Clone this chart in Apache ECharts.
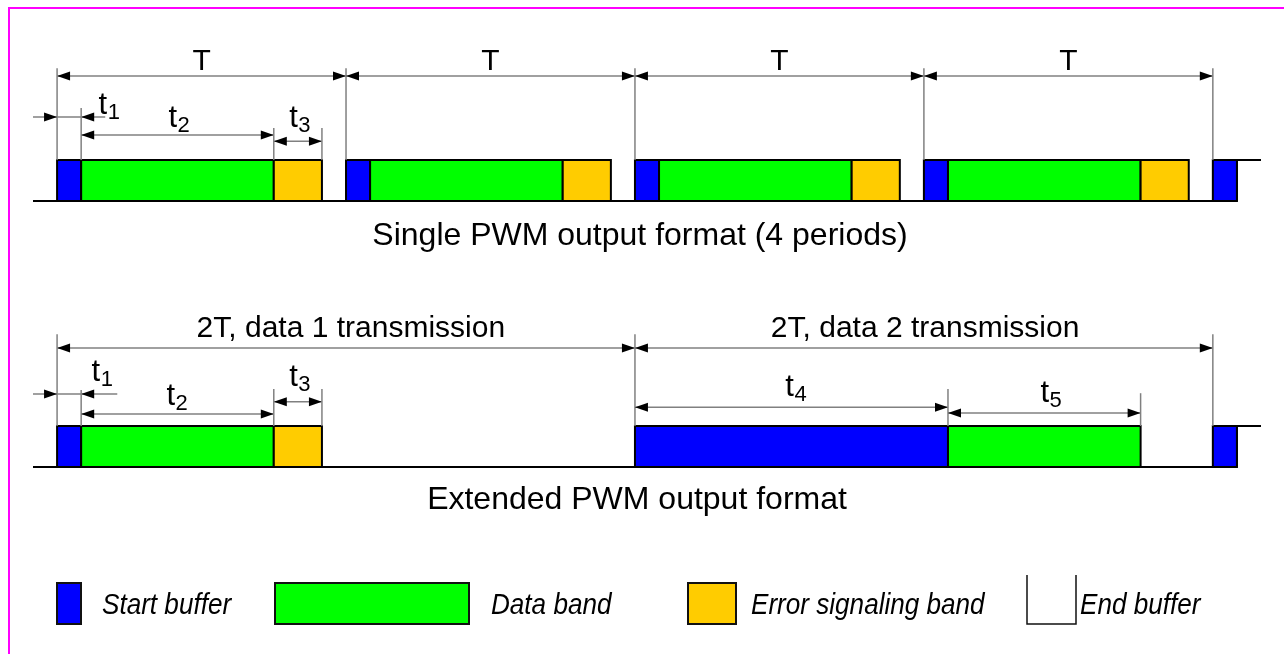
<!DOCTYPE html>
<html><head><meta charset="utf-8">
<script src="https://cdn.jsdelivr.net/npm/echarts@6/dist/echarts.min.js"></script>
<style>html,body{margin:0;padding:0;background:#fff}#c{width:1284px;height:654px}</style>
</head><body><div id="c"></div>
<script>
// ---------- data (time in units of t1; T = 12 units) ----------
const categories = ['Start buffer', 'Data band', 'Error signaling band', 'End buffer'];
const titles = ['Single PWM output format (4 periods)', 'Extended PWM output format'];
// [start, end, categoryIndex]
const singleBlocks = [
  [0, 1, 0], [1, 9, 1], [9, 11, 2],
  [12, 13, 0], [13, 21, 1], [21, 23, 2],
  [24, 25, 0], [25, 33, 1], [33, 35, 2],
  [36, 37, 0], [37, 45, 1], [45, 47, 2],
  [48, 49, 0]
];
const extendedBlocks = [
  [0, 1, 0], [1, 9, 1], [9, 11, 2],
  [24, 37, 0], [37, 45, 1],
  [48, 49, 0]
];
// signal polyline [time, level]
const singleSignal = [[-1, 0], [49, 0], [49, 1], [50, 1]];
const extendedSignal = [[-1, 0], [49, 0], [49, 1], [50, 1]];
// dimension annotations [label, from, to]
const singleDims = [
  ['T', 0, 12], ['T', 12, 24], ['T', 24, 36], ['T', 36, 48],
  ['t1', 0, 1], ['t2', 1, 9], ['t3', 9, 11]
];
const extendedDims = [
  ['2T, data 1 transmission', 0, 24], ['2T, data 2 transmission', 24, 48],
  ['t1', 0, 1], ['t2', 1, 9], ['t3', 9, 11], ['t4', 24, 37], ['t5', 37, 45]
];

// ---------- styles / layout ----------
const colors = ['#0000FF', '#00FF00', '#FFCC00', '#FFFFFF'];
const FONT = "'Liberation Sans', Arial, Helvetica, sans-serif";
const GRAY = '#808080';
// per-dimension layout (levels in signal-height units above the baseline)
const singleLayout = [
  {lv: 3.05, ext: [3.24, 3.24], lab: {cx: 0, b: 3.17, fs: 30}},
  {lv: 3.05, ext: [null, 3.24], lab: {cx: 0, b: 3.17, fs: 30}},
  {lv: 3.05, ext: [null, 3.24], lab: {cx: 0, b: 3.17, fs: 30}},
  {lv: 3.05, ext: [null, 3.24], lab: {cx: 0, b: 3.17, fs: 30}},
  {lv: 2.05, out: [-1, 2.0], ext: [null, 2.27], sub: {x: 2.08, b: 2.1}},
  {lv: 1.61, ext: [null, null], sub: {x: 4.98, b: 1.78}},
  {lv: 1.46, ext: [1.78, 1.78], sub: {x: 10.0, b: 1.78}}
];
const extendedLayout = [
  {lv: 2.9, ext: [3.24, 3.24], lab: {cx: 0.2, b: 3.15, fs: 30}},
  {lv: 2.9, ext: [null, 3.24], lab: {cx: 0.05, b: 3.15, fs: 30}},
  {lv: 1.78, out: [-1, 2.5], ext: [null, 1.88], sub: {x: 1.79, b: 2.07}},
  {lv: 1.29, ext: [null, null], sub: {x: 4.9, b: 1.49}},
  {lv: 1.59, ext: [1.9, 1.9], sub: {x: 10.0, b: 1.95}},
  {lv: 1.46, ext: [null, 1.9], sub: {x: 30.6, b: 1.71}},
  {lv: 1.32, ext: [null, 1.8], sub: {x: 41.2, b: 1.56}}
];

function head(tx, y, dir) {
  return {type: 'polygon', shape: {points: [[tx, y], [tx - dir * 13, y - 4.5], [tx - dir * 13, y + 4.5]]},
    style: {fill: '#000'}};
}
function mid(baseY, fs) { return baseY - 0.31 * fs; }

function makeDimRender(dims, layout) {
  return function (params, api) {
    const i = params.dataIndex;
    const d = dims[i], L = layout[i];
    const x0 = api.value(0), x1 = api.value(1);
    const a = api.coord([x0, L.lv]), b = api.coord([x1, L.lv]);
    const y = a[1];
    const ch = [];
    const ls = {stroke: GRAY, lineWidth: 1.5};
    if (L.out) {
      const p = api.coord([L.out[0], L.lv]), q = api.coord([L.out[1], L.lv]);
      ch.push({type: 'line', shape: {x1: p[0], y1: y, x2: q[0], y2: y}, style: ls});
      ch.push(head(a[0], y, 1), head(b[0], y, -1));
    } else {
      ch.push({type: 'line', shape: {x1: a[0], y1: y, x2: b[0], y2: y}, style: ls});
      ch.push(head(a[0], y, -1), head(b[0], y, 1));
    }
    [x0, x1].forEach(function (xx, k) {
      if (L.ext[k] == null) return;
      const t = api.coord([xx, L.ext[k]]), bt = api.coord([xx, 1]);
      ch.push({type: 'line', shape: {x1: t[0], y1: t[1], x2: bt[0], y2: bt[1]}, style: ls});
    });
    if (L.lab) {
      const c = api.coord([(x0 + x1) / 2 + L.lab.cx, L.lab.b]);
      ch.push({type: 'text', style: {text: d[0], x: c[0], y: mid(c[1], L.lab.fs), align: 'center',
        verticalAlign: 'middle', font: L.lab.fs + 'px ' + FONT, fill: '#000'}});
    }
    if (L.sub) {
      const c = api.coord([L.sub.x, L.sub.b]);
      ch.push({type: 'text', style: {text: d[0].charAt(0), x: c[0], y: mid(c[1], 31), align: 'right',
        verticalAlign: 'middle', font: '31px ' + FONT, fill: '#000'}});
      ch.push({type: 'text', style: {text: d[0].slice(1), x: c[0] + 0.5, y: mid(c[1] + 5, 22), align: 'left',
        verticalAlign: 'middle', font: '22px ' + FONT, fill: '#000'}});
    }
    return {type: 'group', children: ch};
  };
}

function blockRender(params, api) {
  const p0 = api.coord([api.value(0), 0]);
  const p1 = api.coord([api.value(1), 1]);
  return {type: 'rect', shape: {x: p0[0], y: p1[1], width: p1[0] - p0[0], height: p0[1] - p1[1]},
    style: {fill: colors[api.value(2)], stroke: '#000', lineWidth: 2}};
}

const grids = [
  {left: 33, right: 23, top: 37, height: 164},
  {left: 33, right: 23, top: 303, height: 164}
];
const xAxes = [0, 1].map(function (g) {
  return {type: 'value', gridIndex: g, min: -1, max: 50, show: false};
});
const yAxes = [0, 1].map(function (g) {
  return {type: 'value', gridIndex: g, min: 0, max: 4, show: false};
});

const rows = [
  {blocks: singleBlocks, signal: singleSignal, dims: singleDims, layout: singleLayout},
  {blocks: extendedBlocks, signal: extendedSignal, dims: extendedDims, layout: extendedLayout}
];
const series = [];
rows.forEach(function (r, g) {
  series.push({type: 'line', xAxisIndex: g, yAxisIndex: g, data: r.signal, symbol: 'none',
    lineStyle: {color: '#000', width: 2}, silent: true, z: 1, animation: false});
  series.push({type: 'custom', xAxisIndex: g, yAxisIndex: g, data: r.blocks, renderItem: blockRender,
    encode: {x: [0, 1]}, silent: true, z: 2, animation: false});
  series.push({type: 'custom', xAxisIndex: g, yAxisIndex: g,
    data: r.dims.map(function (d, i) { return [d[1], d[2], i]; }),
    renderItem: makeDimRender(r.dims, r.layout), encode: {x: [0, 1]}, silent: true, z: 3, animation: false});
});

// legend (custom drawn)
const legendItems = [
  {rect: [57, 24], text: 102},
  {rect: [275, 194], text: 491},
  {rect: [688, 48], text: 751},
  {open: [1027, 1076], text: 1080}
];
const graphic = [
  {type: 'polyline', shape: {points: [[9, 654], [9, 8], [1284, 8]]}, style: {stroke: '#FF00FF', lineWidth: 2, fill: null}},
  {type: 'text', x: 640, y: mid(246, 32), style: {text: titles[0], font: '32px ' + FONT, fill: '#000', align: 'center', verticalAlign: 'middle'}},
  {type: 'text', x: 637, y: mid(510, 32), style: {text: titles[1], font: '32px ' + FONT, fill: '#000', align: 'center', verticalAlign: 'middle'}}
];
legendItems.forEach(function (it, i) {
  if (it.rect) {
    graphic.push({type: 'rect', shape: {x: it.rect[0], y: 583, width: it.rect[1], height: 41},
      style: {fill: colors[i], stroke: '#111', lineWidth: 2}});
  } else {
    graphic.push({type: 'polyline', shape: {points: [[it.open[0], 575], [it.open[0], 624], [it.open[1], 624], [it.open[1], 575]]},
      style: {stroke: '#111', lineWidth: 1.5, fill: null}});
  }
  graphic.push({type: 'text', x: it.text, y: mid(615, 30), scaleX: 0.87,
    style: {text: categories[i], font: 'italic 30px ' + FONT, fill: '#000', align: 'left', verticalAlign: 'middle'}});
});

const chart = echarts.init(document.getElementById('c'), null, {renderer: 'canvas'});
chart.setOption({
  animation: false,
  backgroundColor: '#fff',
  grid: grids,
  xAxis: xAxes,
  yAxis: yAxes,
  series: series,
  graphic: graphic
});
</script>
</body></html>
